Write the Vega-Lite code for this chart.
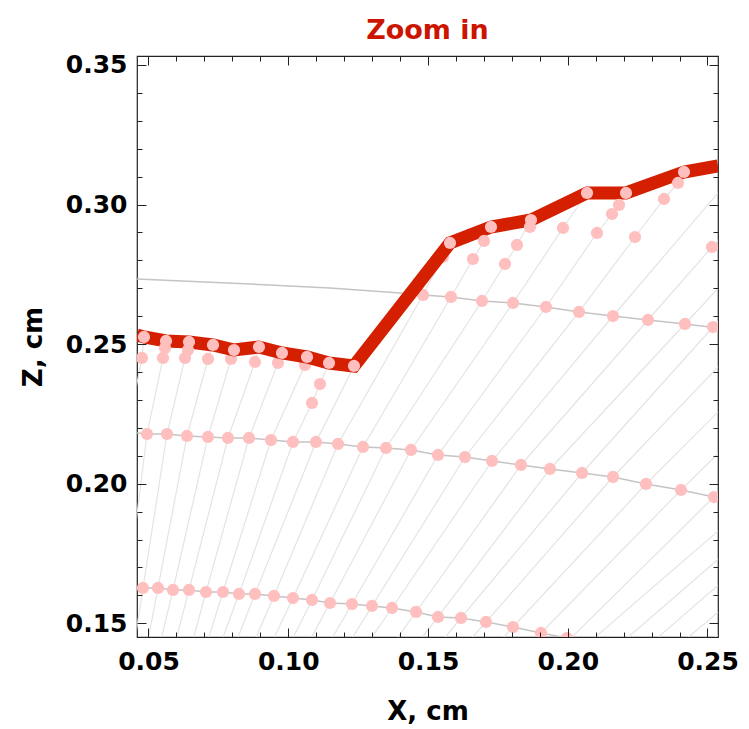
{
  "$schema": "https://vega.github.io/schema/vega-lite/v6.json",
  "width": 581,
  "height": 581,
  "autosize": "none",
  "padding": {"left": 137, "top": 56, "right": 31, "bottom": 92},
  "background": "white",
  "title": {"text": "Zoom in", "color": "#cc1500", "font": "DejaVu Sans", "fontSize": 27, "fontWeight": "bold", "anchor": "middle", "offset": 8},
  "config": {"view": {"stroke": "#222", "strokeWidth": 1.2}},
  "datasets": {
    "traj": [
      {"i":0,"x":0.03730,"z":0.16300},{"i":0,"x":0.04231,"z":0.21781},{"i":0,"x":0.04767,"z":0.24504},{"i":0,"x":0.04839,"z":0.25256},
      {"i":1,"x":0.04016,"z":0.14402},{"i":1,"x":0.04267,"z":0.16300},{"i":1,"x":0.04946,"z":0.21781},{"i":1,"x":0.05519,"z":0.24504},{"i":1,"x":0.05626,"z":0.25113},
      {"i":2,"x":0.04517,"z":0.14402},{"i":2,"x":0.04803,"z":0.16265},{"i":2,"x":0.05662,"z":0.21781},{"i":2,"x":0.06306,"z":0.24504},{"i":2,"x":0.06449,"z":0.25077},
      {"i":3,"x":0.04982,"z":0.14402},{"i":3,"x":0.05340,"z":0.16265},{"i":3,"x":0.06377,"z":0.21710},{"i":3,"x":0.07129,"z":0.24468},{"i":3,"x":0.07308,"z":0.24970},
      {"i":4,"x":0.05447,"z":0.14402},{"i":4,"x":0.05877,"z":0.16193},{"i":4,"x":0.07129,"z":0.21674},{"i":4,"x":0.07952,"z":0.24468},{"i":4,"x":0.08059,"z":0.24790},
      {"i":5,"x":0.05984,"z":0.14402},{"i":5,"x":0.06449,"z":0.16193},{"i":5,"x":0.07844,"z":0.21638},{"i":5,"x":0.08810,"z":0.24361},{"i":5,"x":0.08953,"z":0.24898},
      {"i":6,"x":0.06592,"z":0.14402},{"i":6,"x":0.07057,"z":0.16121},{"i":6,"x":0.08596,"z":0.21638},{"i":6,"x":0.09633,"z":0.24325},{"i":6,"x":0.09776,"z":0.24683},
      {"i":7,"x":0.07129,"z":0.14402},{"i":7,"x":0.07665,"z":0.16121},{"i":7,"x":0.09383,"z":0.21566},{"i":7,"x":0.10599,"z":0.24253},{"i":7,"x":0.10671,"z":0.24540},
      {"i":8,"x":0.07630,"z":0.14402},{"i":8,"x":0.08238,"z":0.16050},{"i":8,"x":0.10170,"z":0.21495},{"i":8,"x":0.10850,"z":0.22892},{"i":8,"x":0.11136,"z":0.23572},{"i":8,"x":0.11458,"z":0.24325},
      {"i":9,"x":0.08166,"z":0.14402},{"i":9,"x":0.08810,"z":0.16050},{"i":9,"x":0.10993,"z":0.21495},{"i":9,"x":0.12352,"z":0.24217},
      {"i":10,"x":0.08810,"z":0.14402},{"i":10,"x":0.09490,"z":0.15978},{"i":10,"x":0.11780,"z":0.21423},{"i":10,"x":0.14821,"z":0.26761},{"i":10,"x":0.15537,"z":0.28122},{"i":10,"x":0.15787,"z":0.28624},
      {"i":11,"x":0.09454,"z":0.14402},{"i":11,"x":0.10170,"z":0.15906},{"i":11,"x":0.12674,"z":0.21316},{"i":11,"x":0.15823,"z":0.26689},{"i":11,"x":0.16610,"z":0.28050},{"i":11,"x":0.17004,"z":0.28695},{"i":11,"x":0.17254,"z":0.29197},
      {"i":12,"x":0.10134,"z":0.14402},{"i":12,"x":0.10850,"z":0.15835},{"i":12,"x":0.13497,"z":0.21280},{"i":12,"x":0.16932,"z":0.26546},{"i":12,"x":0.17755,"z":0.27871},{"i":12,"x":0.18184,"z":0.28552},{"i":12,"x":0.18685,"z":0.29447},
      {"i":13,"x":0.10778,"z":0.14402},{"i":13,"x":0.11494,"z":0.15727},{"i":13,"x":0.14392,"z":0.21208},{"i":13,"x":0.18041,"z":0.26474},{"i":13,"x":0.19830,"z":0.29161},{"i":13,"x":0.20689,"z":0.30415},
      {"i":14,"x":0.11530,"z":0.14402},{"i":14,"x":0.12281,"z":0.15691},{"i":14,"x":0.15358,"z":0.21029},{"i":14,"x":0.19222,"z":0.26331},{"i":14,"x":0.21047,"z":0.28982},{"i":14,"x":0.21583,"z":0.29662},{"i":14,"x":0.21834,"z":0.29985},{"i":14,"x":0.22084,"z":0.30415},
      {"i":15,"x":0.12245,"z":0.14402},{"i":15,"x":0.12996,"z":0.15620},{"i":15,"x":0.16324,"z":0.20957},{"i":15,"x":0.20403,"z":0.26152},{"i":15,"x":0.22406,"z":0.28838},{"i":15,"x":0.23444,"z":0.30200},{"i":15,"x":0.23944,"z":0.30773},{"i":15,"x":0.24159,"z":0.31167},
      {"i":16,"x":0.12925,"z":0.14402},{"i":16,"x":0.13712,"z":0.15548},{"i":16,"x":0.17290,"z":0.20814},{"i":16,"x":0.21619,"z":0.26008},{"i":16,"x":0.25984,"z":0.31131},
      {"i":17,"x":0.13855,"z":0.14402},{"i":17,"x":0.14571,"z":0.15405},{"i":17,"x":0.18327,"z":0.20671},{"i":17,"x":0.22871,"z":0.25865},{"i":17,"x":0.25161,"z":0.28480},{"i":17,"x":0.25984,"z":0.29376},
      {"i":18,"x":0.14714,"z":0.14402},{"i":18,"x":0.15358,"z":0.15226},{"i":18,"x":0.19365,"z":0.20528},{"i":18,"x":0.24195,"z":0.25722},{"i":18,"x":0.25984,"z":0.27656},
      {"i":19,"x":0.15537,"z":0.14402},{"i":19,"x":0.16181,"z":0.15190},{"i":19,"x":0.20510,"z":0.20384},{"i":19,"x":0.25197,"z":0.25614},{"i":19,"x":0.25984,"z":0.26510},
      {"i":20,"x":0.16503,"z":0.14402},{"i":20,"x":0.17075,"z":0.15047},{"i":20,"x":0.21619,"z":0.20241},{"i":20,"x":0.25984,"z":0.24826},
      {"i":21,"x":0.17612,"z":0.14402},{"i":21,"x":0.18041,"z":0.14867},{"i":21,"x":0.22800,"z":0.19990},{"i":21,"x":0.25984,"z":0.23178},
      {"i":22,"x":0.18793,"z":0.14402},{"i":22,"x":0.19043,"z":0.14653},{"i":22,"x":0.24052,"z":0.19775},{"i":22,"x":0.25984,"z":0.21674},
      {"i":23,"x":0.20045,"z":0.14402},{"i":23,"x":0.25232,"z":0.19524},{"i":23,"x":0.25984,"z":0.20241},
      {"i":24,"x":0.20868,"z":0.14402},{"i":24,"x":0.26449,"z":0.19238},
      {"i":25,"x":0.22048,"z":0.14402},{"i":25,"x":0.26878,"z":0.18593},
      {"i":26,"x":0.23122,"z":0.14402},{"i":26,"x":0.27236,"z":0.17984},
      {"i":27,"x":0.24195,"z":0.14402},{"i":27,"x":0.27594,"z":0.17268},
      {"i":28,"x":0.25161,"z":0.14402},{"i":28,"x":0.27952,"z":0.16730}
    ],
    "curves": [
      {"c":1,"x":0.04589,"z":0.27334},{"c":1,"x":0.08631,"z":0.27155},{"c":1,"x":0.11494,"z":0.27012},{"c":1,"x":0.13998,"z":0.26832},{"c":1,"x":0.14821,"z":0.26761},{"c":1,"x":0.15823,"z":0.26689},{"c":1,"x":0.16932,"z":0.26546},{"c":1,"x":0.18041,"z":0.26474},{"c":1,"x":0.19222,"z":0.26331},{"c":1,"x":0.20403,"z":0.26152},{"c":1,"x":0.21619,"z":0.26008},{"c":1,"x":0.22871,"z":0.25865},{"c":1,"x":0.24195,"z":0.25722},{"c":1,"x":0.25376,"z":0.25579},
      {"c":2,"x":0.04589,"z":0.21817},{"c":2,"x":0.04946,"z":0.21781},{"c":2,"x":0.05662,"z":0.21781},{"c":2,"x":0.06377,"z":0.21710},{"c":2,"x":0.07129,"z":0.21674},{"c":2,"x":0.07844,"z":0.21638},{"c":2,"x":0.08596,"z":0.21638},{"c":2,"x":0.09383,"z":0.21566},{"c":2,"x":0.10170,"z":0.21495},{"c":2,"x":0.10993,"z":0.21495},{"c":2,"x":0.11780,"z":0.21423},{"c":2,"x":0.12674,"z":0.21316},{"c":2,"x":0.13497,"z":0.21280},{"c":2,"x":0.14392,"z":0.21208},{"c":2,"x":0.15358,"z":0.21029},{"c":2,"x":0.16324,"z":0.20957},{"c":2,"x":0.17290,"z":0.20814},{"c":2,"x":0.18327,"z":0.20671},{"c":2,"x":0.19365,"z":0.20528},{"c":2,"x":0.20510,"z":0.20384},{"c":2,"x":0.21619,"z":0.20241},{"c":2,"x":0.22800,"z":0.19990},{"c":2,"x":0.24052,"z":0.19775},{"c":2,"x":0.25232,"z":0.19524},{"c":2,"x":0.25376,"z":0.19489},
      {"c":3,"x":0.04589,"z":0.16300},{"c":3,"x":0.04803,"z":0.16265},{"c":3,"x":0.05340,"z":0.16265},{"c":3,"x":0.05877,"z":0.16193},{"c":3,"x":0.06449,"z":0.16193},{"c":3,"x":0.07057,"z":0.16121},{"c":3,"x":0.07665,"z":0.16121},{"c":3,"x":0.08238,"z":0.16050},{"c":3,"x":0.08810,"z":0.16050},{"c":3,"x":0.09490,"z":0.15978},{"c":3,"x":0.10170,"z":0.15906},{"c":3,"x":0.10850,"z":0.15835},{"c":3,"x":0.11494,"z":0.15727},{"c":3,"x":0.12281,"z":0.15691},{"c":3,"x":0.12996,"z":0.15620},{"c":3,"x":0.13712,"z":0.15548},{"c":3,"x":0.14571,"z":0.15405},{"c":3,"x":0.15358,"z":0.15226},{"c":3,"x":0.16181,"z":0.15190},{"c":3,"x":0.17075,"z":0.15047},{"c":3,"x":0.18041,"z":0.14867},{"c":3,"x":0.19043,"z":0.14653},{"c":3,"x":0.19973,"z":0.14473},{"c":3,"x":0.20975,"z":0.14294}
    ],
    "cdots": [
      {"x":0.14821,"z":0.26761},{"x":0.15823,"z":0.26689},{"x":0.16932,"z":0.26546},{"x":0.18041,"z":0.26474},{"x":0.19222,"z":0.26331},{"x":0.20403,"z":0.26152},{"x":0.21619,"z":0.26008},{"x":0.22871,"z":0.25865},{"x":0.24195,"z":0.25722},{"x":0.25197,"z":0.25614},
      {"x":0.04946,"z":0.21781},{"x":0.05662,"z":0.21781},{"x":0.06377,"z":0.21710},{"x":0.07129,"z":0.21674},{"x":0.07844,"z":0.21638},{"x":0.08596,"z":0.21638},{"x":0.09383,"z":0.21566},{"x":0.10170,"z":0.21495},{"x":0.10993,"z":0.21495},{"x":0.11780,"z":0.21423},{"x":0.12674,"z":0.21316},{"x":0.13497,"z":0.21280},{"x":0.14392,"z":0.21208},{"x":0.15358,"z":0.21029},{"x":0.16324,"z":0.20957},{"x":0.17290,"z":0.20814},{"x":0.18327,"z":0.20671},{"x":0.19365,"z":0.20528},{"x":0.20510,"z":0.20384},{"x":0.21619,"z":0.20241},{"x":0.22800,"z":0.19990},{"x":0.24052,"z":0.19775},{"x":0.25232,"z":0.19524},
      {"x":0.04803,"z":0.16265},{"x":0.05340,"z":0.16265},{"x":0.05877,"z":0.16193},{"x":0.06449,"z":0.16193},{"x":0.07057,"z":0.16121},{"x":0.07665,"z":0.16121},{"x":0.08238,"z":0.16050},{"x":0.08810,"z":0.16050},{"x":0.09490,"z":0.15978},{"x":0.10170,"z":0.15906},{"x":0.10850,"z":0.15835},{"x":0.11494,"z":0.15727},{"x":0.12281,"z":0.15691},{"x":0.12996,"z":0.15620},{"x":0.13712,"z":0.15548},{"x":0.14571,"z":0.15405},{"x":0.15358,"z":0.15226},{"x":0.16181,"z":0.15190},{"x":0.17075,"z":0.15047},{"x":0.18041,"z":0.14867},{"x":0.19043,"z":0.14653},{"x":0.19973,"z":0.14473},
      {"x":0.04767,"z":0.24504},{"x":0.05519,"z":0.24504},{"x":0.06306,"z":0.24504},{"x":0.07129,"z":0.24468},{"x":0.07952,"z":0.24468},{"x":0.08810,"z":0.24361},{"x":0.09633,"z":0.24325},{"x":0.10599,"z":0.24253},{"x":0.10850,"z":0.22892},{"x":0.11136,"z":0.23572},
      {"x":0.15537,"z":0.28122},{"x":0.16610,"z":0.28050},{"x":0.17755,"z":0.27871},{"x":0.19830,"z":0.29161},{"x":0.21047,"z":0.28982},{"x":0.22406,"z":0.28838},{"x":0.25161,"z":0.28480}
    ],
    "surface": [
      {"x":0.04589,"z":0.25328},{"x":0.04839,"z":0.25256},{"x":0.05626,"z":0.25113},{"x":0.06449,"z":0.25077},{"x":0.07308,"z":0.24970},{"x":0.08059,"z":0.24790},{"x":0.08953,"z":0.24898},{"x":0.09776,"z":0.24683},{"x":0.10671,"z":0.24540},{"x":0.11458,"z":0.24325},{"x":0.12352,"z":0.24217},{"x":0.15787,"z":0.28624},{"x":0.17254,"z":0.29197},{"x":0.18685,"z":0.29447},{"x":0.20689,"z":0.30415},{"x":0.22084,"z":0.30415},{"x":0.24159,"z":0.31167},{"x":0.25376,"z":0.31382}
    ],
    "sdots": [
      {"x":0.04839,"z":0.25256},{"x":0.05626,"z":0.25113},{"x":0.06449,"z":0.25077},{"x":0.07308,"z":0.24970},{"x":0.08059,"z":0.24790},{"x":0.08953,"z":0.24898},{"x":0.09776,"z":0.24683},{"x":0.10671,"z":0.24540},{"x":0.11458,"z":0.24325},{"x":0.12352,"z":0.24217},
      {"x":0.05590,"z":0.24862},{"x":0.06413,"z":0.24790},
      {"x":0.15787,"z":0.28624},{"x":0.17004,"z":0.28695},{"x":0.17254,"z":0.29197},{"x":0.18184,"z":0.28552},{"x":0.18649,"z":0.29197},{"x":0.18685,"z":0.29447},{"x":0.20689,"z":0.30415},{"x":0.21583,"z":0.29662},{"x":0.21834,"z":0.29985},{"x":0.22084,"z":0.30415},{"x":0.23444,"z":0.30200},{"x":0.23944,"z":0.30773},{"x":0.24159,"z":0.31167}
    ]
  },
  "layer": [
    {
      "data": {"name": "traj"},
      "mark": {"type": "line", "color": "#e4e4e4", "strokeWidth": 1.2, "clip": true},
      "encoding": {
        "x": {"field": "x", "type": "quantitative", "scale": {"domain": [0.04589, 0.25376], "nice": false, "zero": false},
          "axis": {"orient": "bottom", "values": [0.05, 0.1, 0.15, 0.2, 0.25], "format": ".2f", "ticks": false, "domain": false, "grid": false, "labelFont": "DejaVu Sans", "labelFontWeight": "bold", "labelFontSize": 25, "labelColor": "#000", "labelPadding": 12, "labelFlush": false, "labelOverlap": false, "title": "X, cm", "titleFont": "DejaVu Sans", "titleFontWeight": "bold", "titleFontSize": 26, "titleColor": "#000", "titlePadding": 24, "zindex": 1}},
        "y": {"field": "z", "type": "quantitative", "scale": {"domain": [0.14509, 0.35322], "nice": false, "zero": false},
          "axis": {"orient": "left", "values": [0.15, 0.2, 0.25, 0.3, 0.35], "format": ".2f", "ticks": false, "domain": false, "grid": false, "labelFont": "DejaVu Sans", "labelFontWeight": "bold", "labelFontSize": 25, "labelColor": "#000", "labelPadding": 10, "labelFlush": false, "labelOverlap": false, "title": "Z, cm", "titleFont": "DejaVu Sans", "titleFontWeight": "bold", "titleFontSize": 26, "titleColor": "#000", "titlePadding": 19, "zindex": 1}},
        "detail": {"field": "i", "type": "nominal"}
      }
    },
    {
      "data": {"name": "curves"},
      "mark": {"type": "line", "color": "#c4c4c4", "strokeWidth": 1.4, "clip": true},
      "encoding": {
        "x": {"field": "x", "type": "quantitative", "axis": {"orient": "bottom", "values": [0.05, 0.1, 0.15, 0.2, 0.25], "labels": false, "domain": false, "grid": false, "tickSize": -9, "tickColor": "#222", "tickWidth": 1, "title": null, "zindex": 1}},
        "y": {"field": "z", "type": "quantitative", "axis": {"orient": "left", "values": [0.15, 0.2, 0.25, 0.3, 0.35], "labels": false, "domain": false, "grid": false, "tickSize": -9, "tickColor": "#222", "tickWidth": 1, "title": null, "zindex": 1}},
        "detail": {"field": "c", "type": "nominal"}
      }
    },
    {
      "data": {"name": "cdots"},
      "mark": {"type": "point", "filled": true, "color": "#ffbfbf", "opacity": 1, "size": 150, "clip": true},
      "encoding": {
        "x": {"field": "x", "type": "quantitative", "axis": {"orient": "bottom", "values": [0.06,0.07,0.08,0.09,0.11,0.12,0.13,0.14,0.16,0.17,0.18,0.19,0.21,0.22,0.23,0.24], "labels": false, "domain": false, "grid": false, "tickSize": -5, "tickColor": "#222", "tickWidth": 1, "title": null, "zindex": 1}},
        "y": {"field": "z", "type": "quantitative", "axis": {"orient": "left", "values": [0.16,0.17,0.18,0.19,0.21,0.22,0.23,0.24,0.26,0.27,0.28,0.29,0.31,0.32,0.33,0.34], "labels": false, "domain": false, "grid": false, "tickSize": -5, "tickColor": "#222", "tickWidth": 1, "title": null, "zindex": 1}}
      }
    },
    {
      "data": {"name": "surface"},
      "mark": {"type": "line", "color": "#d41f00", "strokeWidth": 13, "clip": true},
      "encoding": {
        "x": {"field": "x", "type": "quantitative", "axis": {"orient": "top", "values": [0.05, 0.1, 0.15, 0.2, 0.25], "labels": false, "domain": false, "grid": false, "tickSize": -9, "tickColor": "#222", "tickWidth": 1, "title": null, "zindex": 1}},
        "y": {"field": "z", "type": "quantitative", "axis": {"orient": "right", "values": [0.15, 0.2, 0.25, 0.3, 0.35], "labels": false, "domain": false, "grid": false, "tickSize": -9, "tickColor": "#222", "tickWidth": 1, "title": null, "zindex": 1}}
      }
    },
    {
      "data": {"name": "sdots"},
      "mark": {"type": "point", "filled": true, "color": "#ffbfbf", "opacity": 1, "size": 150, "clip": true},
      "encoding": {
        "x": {"field": "x", "type": "quantitative", "axis": {"orient": "top", "values": [0.06,0.07,0.08,0.09,0.11,0.12,0.13,0.14,0.16,0.17,0.18,0.19,0.21,0.22,0.23,0.24], "labels": false, "domain": false, "grid": false, "tickSize": -5, "tickColor": "#222", "tickWidth": 1, "title": null, "zindex": 1}},
        "y": {"field": "z", "type": "quantitative", "axis": {"orient": "right", "values": [0.16,0.17,0.18,0.19,0.21,0.22,0.23,0.24,0.26,0.27,0.28,0.29,0.31,0.32,0.33,0.34], "labels": false, "domain": false, "grid": false, "tickSize": -5, "tickColor": "#222", "tickWidth": 1, "title": null, "zindex": 1}}
      }
    }
  ],
  "resolve": {"axis": {"x": "independent", "y": "independent"}}
}
